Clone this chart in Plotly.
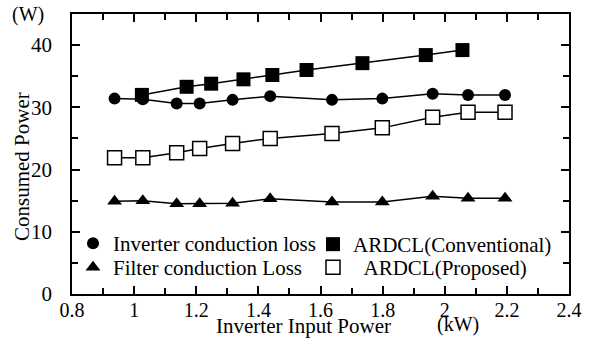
import plotly.graph_objects as go

# Data
x_common = [0.937, 1.028, 1.137, 1.211, 1.317, 1.438, 1.637, 1.799, 1.961, 2.075, 2.194]
inverter_loss = [31.4, 31.3, 30.6, 30.6, 31.2, 31.8, 31.2, 31.4, 32.2, 32.0, 32.0]
filter_loss = [14.9, 15.0, 14.5, 14.5, 14.6, 15.3, 14.8, 14.8, 15.7, 15.4, 15.4]
ardcl_proposed = [21.9, 21.9, 22.7, 23.4, 24.2, 25.0, 25.8, 26.7, 28.4, 29.2, 29.2]
x_conv = [1.025, 1.169, 1.248, 1.352, 1.445, 1.555, 1.735, 1.939, 2.057]
ardcl_conventional = [32.0, 33.3, 33.8, 34.5, 35.2, 36.0, 37.1, 38.4, 39.2]

x_ticks = [0.8, 1.0, 1.2, 1.4, 1.6, 1.8, 2.0, 2.2, 2.4]
x_ticktext = ["0.8", "1", "1.2", "1.4", "1.6", "1.8", "2", "2.2", "2.4"]
y_ticks = [0, 10, 20, 30, 40]

FONT = "Liberation Serif"
LINE = dict(color="black", width=1.5)

series = [
    ("Inverter conduction loss", x_common, inverter_loss,
     dict(symbol="circle", size=12, color="black"), "legend"),
    ("Filter conduction Loss", x_common, filter_loss,
     dict(symbol="triangle-up", size=13, color="black"), "legend2"),
    ("ARDCL(Conventional)", x_conv, ardcl_conventional,
     dict(symbol="square", size=14, color="black"), "legend3"),
    ("\u00a0\u00a0ARDCL(Proposed)", x_common, ardcl_proposed,
     dict(symbol="square", size=14, color="white", line=dict(color="black", width=1.5)),
     "legend4"),
]

fig = go.Figure()
for name, xs, ys, marker, leg in series:
    fig.add_trace(go.Scatter(x=xs, y=ys, mode="lines", line=LINE, showlegend=False,
                             hoverinfo="skip"))
for name, xs, ys, marker, leg in series:
    fig.add_trace(go.Scatter(x=xs, y=ys, mode="markers", name=name, marker=marker,
                             legend=leg))

axis_common = dict(showline=True, linecolor="black", linewidth=1.8, mirror="allticks",
                   ticks="inside", ticklen=8, tickwidth=1.5, tickcolor="black",
                   showgrid=False, zeroline=False)

fig.update_xaxes(range=[0.8, 2.4], tickvals=x_ticks, ticktext=x_ticktext,
                 tickfont=dict(family=FONT, size=20, color="black"),
                 minor=dict(dtick=0.1, ticks="inside", ticklen=6, tickwidth=1.5,
                            tickcolor="black", showgrid=False),
                 ticklabelstandoff=-3, **axis_common)
fig.update_yaxes(range=[0, 45], tickvals=y_ticks,
                 tickfont=dict(family=FONT, size=21, color="black"),
                 minor=dict(dtick=5, ticks="inside", ticklen=6, tickwidth=1.5,
                            tickcolor="black", showgrid=False),
                 ticklabelstandoff=14, **axis_common)


def px_x(p):
    return (p - 72) / 497


def px_y(p):
    return (294 - p) / 280


legend_common = dict(bgcolor="rgba(0,0,0,0)", borderwidth=0,
                     font=dict(family=FONT, size=21, color="black"),
                     xanchor="left", yanchor="top")
fig.update_layout(
    width=593, height=340,
    margin=dict(l=72, r=24, t=14, b=46),
    paper_bgcolor="white", plot_bgcolor="white",
    font=dict(family=FONT, size=20, color="black"),
    legend=dict(x=px_x(73), y=px_y(223), **legend_common),
    legend2=dict(x=px_x(73), y=px_y(247), **legend_common),
    legend3=dict(x=px_x(313), y=px_y(224), **legend_common),
    legend4=dict(x=px_x(313), y=px_y(247), **legend_common),
    annotations=[
        dict(text="(W)", xref="paper", yref="paper", x=px_x(28), y=px_y(15),
             showarrow=False, xanchor="center", yanchor="middle",
             font=dict(family=FONT, size=20)),
        dict(text="Consumed Power", xref="paper", yref="paper", x=px_x(22), y=px_y(167),
             textangle=-90, showarrow=False, xanchor="center", yanchor="middle",
             font=dict(family=FONT, size=21)),
        dict(text="Inverter Input Power", xref="paper", yref="paper", x=px_x(303),
             y=px_y(326), showarrow=False, xanchor="center", yanchor="middle",
             font=dict(family=FONT, size=21)),
        dict(text="(kW)", xref="paper", yref="paper", x=px_x(458), y=px_y(324),
             showarrow=False, xanchor="center", yanchor="middle",
             font=dict(family=FONT, size=20)),
    ],
)

fig.write_html("out.html")
